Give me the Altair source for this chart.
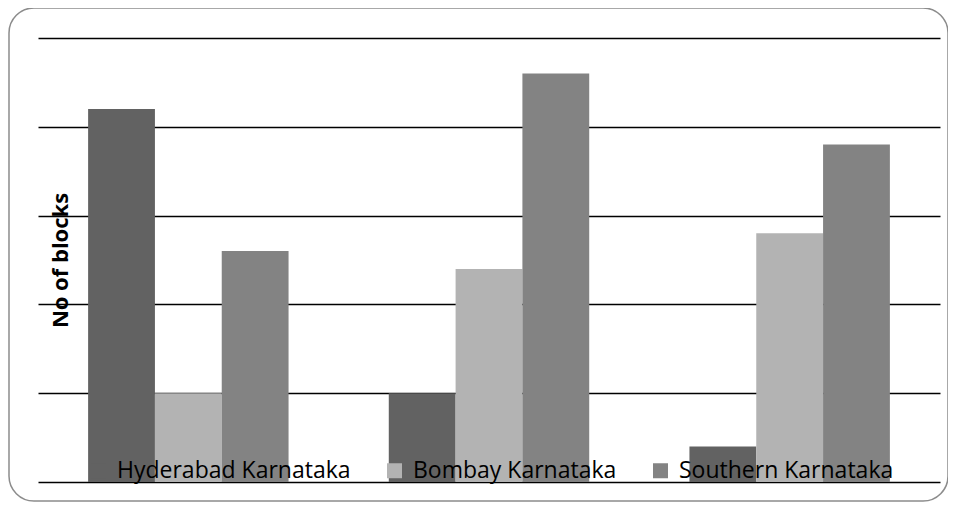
import altair as alt
import pandas as pd

categories = ["Category 1", "Category 2", "Category 3"]
regions = ["Hyderabad Karnataka", "Bombay Karnataka", "Southern Karnataka"]
hyderabad = [42, 10, 4]
bombay = [10, 24, 28]
southern = [26, 46, 38]
colors = ["#626262", "#b3b3b3", "#838383"]

rows = []
for i, c in enumerate(categories):
    for r, vals in zip(regions, [hyderabad, bombay, southern]):
        rows.append({"category": c, "region": r, "value": vals[i]})
df = pd.DataFrame(rows)

bars = alt.Chart(df).mark_bar().encode(
    x=alt.X("category:N", sort=categories, title=None,
            scale=alt.Scale(paddingInner=1/3, paddingOuter=1/6),
            axis=alt.Axis(labels=False, ticks=False, domain=False, grid=False)),
    xOffset=alt.XOffset("region:N", sort=regions, scale=alt.Scale(paddingInner=0, paddingOuter=0)),
    y=alt.Y("value:Q", scale=alt.Scale(domain=[0, 50], nice=False),
            axis=alt.Axis(title="No of blocks", values=[0, 10, 20, 30, 40, 50],
                          labels=False, ticks=False, domain=False, grid=True,
                          gridColor="#000000", gridWidth=1.6,
                          titleX=22, titleY=222, titleAngle=270,
                          titleAlign="center", titleBaseline="middle",
                          titleFont="Open Sans", titleFontSize=22,
                          titleFontWeight="bold", titleColor="#000000")),
    color=alt.Color("region:N", sort=regions,
                    scale=alt.Scale(domain=regions, range=colors),
                    legend=alt.Legend(title=None, orient="none", legendX=49, legendY=421,
                                      direction="horizontal", symbolType="square",
                                      symbolSize=225, symbolStrokeWidth=0,
                                      labelFont="Open Sans", labelFontSize=23,
                                      labelColor="#000000", columnPadding=32,
                                      labelOffset=7, padding=0, labelLimit=400)),
)

frame = alt.Chart(pd.DataFrame({"f": [0]})).mark_rect(
    fillOpacity=0, stroke="#8c8c8c", strokeWidth=1.5, cornerRadius=25
).encode(
    x=alt.value(-29), x2=alt.value(910), y=alt.value(-30), y2=alt.value(463)
)

chart = alt.layer(bars, frame).properties(
    width=902, height=444,
    autosize=alt.AutoSizeParams(type="none"),
    padding={"left": 30, "top": 30, "right": 8, "bottom": 20},
).configure_view(stroke=None)

chart.save("out.html", embed_options={"renderer": "svg", "actions": False})
